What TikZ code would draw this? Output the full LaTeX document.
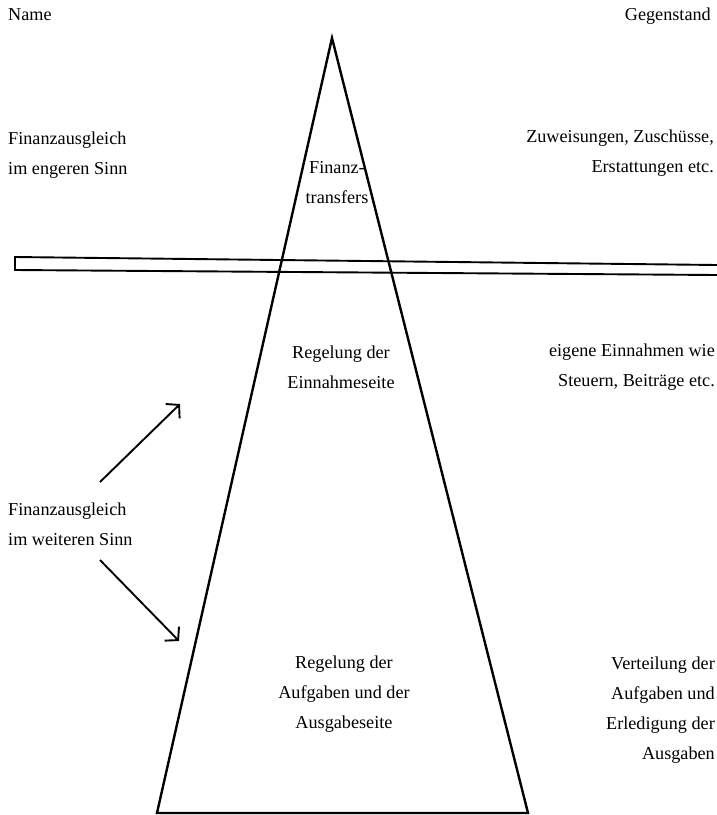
\documentclass[tikz,border=0pt]{standalone}
\usepackage{fontspec}
\setmainfont{Liberation Serif}
\usetikzlibrary{arrows.meta,positioning}

\begin{document}
\begin{tikzpicture}[x=1pt,y=-1pt,
  txt/.style={font=\fontsize{18.2}{30}\selectfont,inner sep=0pt},
  lefttxt/.style={txt,align=left,anchor=base west},
  righttxt/.style={txt,align=right,anchor=base east},
  midtxt/.style={txt,align=center,anchor=base},
  pyramid/.style={line width=2.4pt,line join=miter},
  band/.style={line width=1.9pt},
  pointer/.style={line width=1.9pt,-{Straight Barb[length=9pt,width=20pt,line width=1.9pt]}}]
\useasboundingbox (0,0) rectangle (717,815);
% pyramid
\coordinate (apex) at (332,38);
\coordinate (baseL) at (157,813);
\coordinate (baseR) at (528,813);
\draw[pyramid] (apex) -- (baseR) -- (baseL) -- cycle;
% band
\draw[band] (717,265) -- (15,257) -- (15,270) -- (717,275);
% headings
\node[lefttxt] (name) at (8,20) {Name};
\node[righttxt] (gegenstand) at (711,20) {Gegenstand};
% top level (anchors sit on the last line)
\node[lefttxt] (engeren) at (8,174) {Finanzausgleich\\im engeren Sinn};
\node[midtxt] (transfers) at (337,203) {Finanz-\\transfers};
\node[righttxt] (zuweisungen) at (714,172) {Zuweisungen, Zusch\"usse,\\Erstattungen etc.};
% middle level
\node[midtxt] (einnahme) at (341,388) {Regelung der\\Einnahmeseite};
\node[righttxt] (eigene) at (715,386) {eigene Einnahmen wie\\Steuern, Beitr\"age etc.};
% bottom level
\node[lefttxt] (weiteren) at (8,545) {Finanzausgleich\\im weiteren Sinn};
\node[midtxt] (ausgabe) at (344,728) {Regelung der\\Aufgaben und der\\Ausgabeseite};
\node[righttxt] (verteilung) at (715,759) {Verteilung der\\Aufgaben und\\Erledigung der\\Ausgaben};
% pointers
\coordinate (upS) at (100,482);
\coordinate (upE) at (180,404);
\coordinate (dnS) at (100,560);
\coordinate (dnE) at (179,641);
\draw[pointer] (upS) -- (upE);
\draw[pointer] (dnS) -- (dnE);
\end{tikzpicture}
\end{document}
